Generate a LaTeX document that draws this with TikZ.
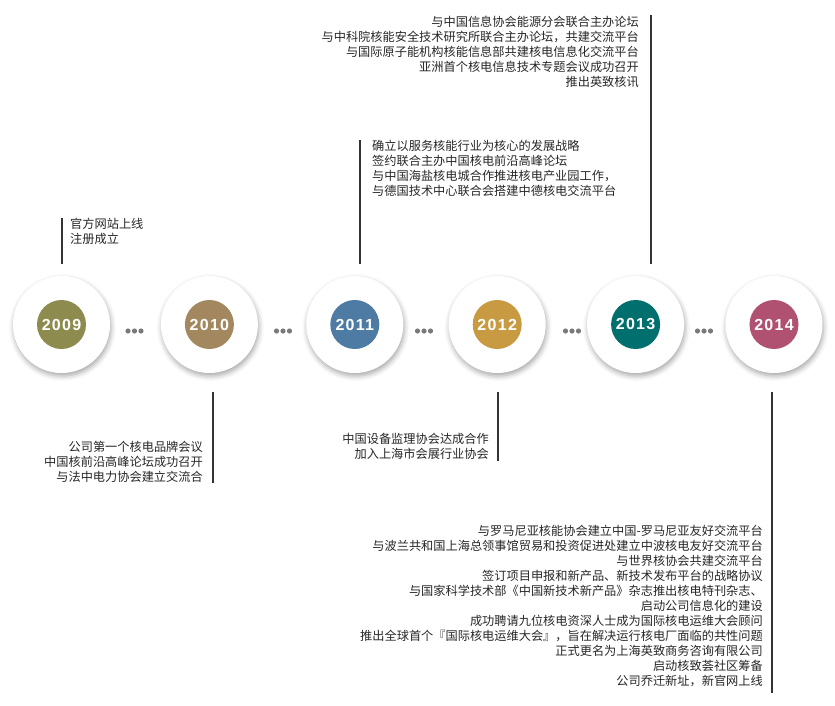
\documentclass[tikz,border=0pt]{standalone}
\usepackage{fontspec}
\setmainfont{Noto Sans CJK SC}
\newfontfamily\yearfont[LetterSpace=8]{Liberation Sans}
\usetikzlibrary{positioning, calc, shadows.blur}

\definecolor{olive09}{HTML}{8E8B4F}
\definecolor{tan10}{HTML}{A3885F}
\definecolor{blue11}{HTML}{4D7BA3}
\definecolor{gold12}{HTML}{C89B42}
\definecolor{teal13}{HTML}{006F6E}
\definecolor{rose14}{HTML}{B15172}
\definecolor{stemgray}{HTML}{333333}
\definecolor{notegray}{HTML}{262626}
\definecolor{dotgray}{HTML}{7A7A7A}

\begin{document}
\begin{tikzpicture}[x=1pt, y=-1pt]
	\tikzset{ring/.style={circle, fill=white, minimum size=97pt, inner sep=0pt, blur shadow={shadow xshift=1pt, shadow yshift=-3pt, shadow blur radius=5pt, shadow opacity=35}},
		year/.style={circle, fill=#1, minimum size=49pt, inner sep=0pt, text=white, font=\yearfont\bfseries\fontsize{16}{16}\selectfont},
		stem/.style={line width=1.6pt, draw=stemgray},
		note/.style={inner sep=0pt, text=notegray, font=\fontsize{12.2}{15}\selectfont},
		dot/.style={fill=dotgray} }

	\useasboundingbox (0,0) rectangle (835,706);

	\node[ring] (r09) at (61.5,324.5) {};
	\node[ring, right=50.5pt of r09] (r10) {};
	\node[ring, right=48pt of r10] (r11) {};
	\node[ring, right=45pt of r11] (r12) {};
	\node[ring, right=41pt of r12] (r13) {};
	\node[ring, right=41pt of r13] (r14) {};

	\node[year=olive09] (y09) at (r09) {2009};
	\node[year=tan10] (y10) at (r10) {2010};
	\node[year=blue11] (y11) at (r11) {2011};
	\node[year=gold12] (y12) at (r12) {2012};
	\node[year=teal13] (y13) at (r13) {2013};
	\node[year=rose14] (y14) at (r14) {2014};

	% dots between the years
	\foreach \gx [count=\i] in {134.5,283,424,572,704} {
		\coordinate (gap\i) at (\gx,331);
		\foreach \dx in {-6.5,0,6.5}
			\fill[dot] ($(gap\i)+(\dx,0)$) circle (2.6pt);
	}

	% stems
	\coordinate (top09) at (62,218);  \coordinate (bot09) at (62,264);
	\coordinate (top11) at (360,140); \coordinate (bot11) at (360,264);
	\coordinate (top13) at (651,15);  \coordinate (bot13) at (651,264);
	\coordinate (top10) at (213,392); \coordinate (bot10) at (213,483);
	\coordinate (top12) at (498,392); \coordinate (bot12) at (498,461);
	\coordinate (top14) at (772,392); \coordinate (bot14) at (772,693);
	\foreach \s in {09,10,11,12,13,14}
		\draw[stem] (top\s) -- (bot\s);

	\node[note, align=left, below right=0pt and 8pt of top09] (n09) {官方网站上线\\注册成立};
	\node[note, align=right, above left=0pt and 10pt of bot10] (n10) {公司第一个核电品牌会议\\中国核前沿高峰论坛成功召开\\与法中电力协会建立交流合};
	\node[note, align=left, below right=0pt and 12pt of top11] (n11) {确立以服务核能行业为核心的发展战略\\签约联合主办中国核电前沿高峰论坛\\与中国海盐核电城合作推进核电产业园工作，\\与德国技术中心联合会搭建中德核电交流平台};
	\node[note, align=right, above left=1pt and 9pt of bot12] (n12) {中国设备监理协会达成合作\\加入上海市会展行业协会};
	\node[note, align=right, below left=1pt and 12pt of top13] (n13) {与中国信息协会能源分会联合主办论坛\\与中科院核能安全技术研究所联合主办论坛，共建交流平台\\与国际原子能机构核能信息部共建核电信息化交流平台\\亚洲首个核电信息技术专题会议成功召开\\推出英致核讯};
	\node[note, align=right, above left=6pt and 9pt of bot14] (n14) {与罗马尼亚核能协会建立中国-罗马尼亚友好交流平台\\与波兰共和国上海总领事馆贸易和投资促进处建立中波核电友好交流平台\\与世界核协会共建交流平台\\签订项目申报和新产品、新技术发布平台的战略协议\\与国家科学技术部《中国新技术新产品》杂志推出核电特刊杂志、\\启动公司信息化的建设\\成功聘请九位核电资深人士成为国际核电运维大会顾问\\推出全球首个『国际核电运维大会』，旨在解决运行核电厂面临的共性问题\\正式更名为上海英致商务咨询有限公司\\启动核致荟社区筹备\\公司乔迁新址，新官网上线};
\end{tikzpicture}
\end{document}
